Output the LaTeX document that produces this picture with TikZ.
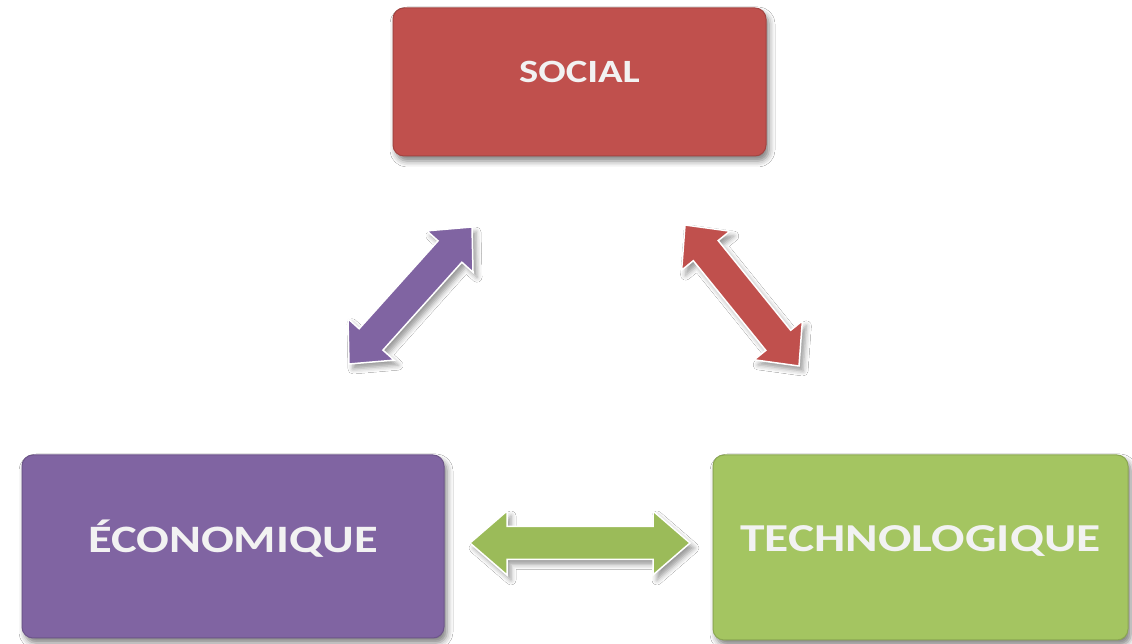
\documentclass[tikz,border=0pt]{standalone}
\usepackage{fontspec}
\setmainfont{Carlito}
\usepackage{graphicx}
\usetikzlibrary{calc,shadows.blur}
\definecolor{socred}{HTML}{C0504D}
\definecolor{ecopurple}{HTML}{8064A2}
\definecolor{techgreen}{HTML}{A4C561}
\definecolor{arrgreen}{HTML}{9BBB59}
\definecolor{lbl}{HTML}{F2F2F2}
\tikzset{
  box/.style={rounded corners=11pt, fill=#1, draw=#1!85!black, line width=1pt,
    blur shadow={shadow xshift=3pt, shadow yshift=-5pt, shadow blur radius=6pt, shadow opacity=50},
    text=lbl, font=\bfseries, inner sep=0pt},
  dbl/.style={fill=#1, draw=white, line width=1.5pt, line join=miter,
    blur shadow={shadow xshift=4pt, shadow yshift=-5pt, shadow blur radius=5pt, shadow opacity=40}},
}
\newcommand\dblarrow[6]{%
  \coordinate (#1-b) at ($(#1)!#5!(#2)$);
  \coordinate (#2-b) at ($(#2)!#5!(#1)$);
  \filldraw[dbl=#6] (#1) -- ($(#1-b)!#4!90:(#2)$) -- ($(#1-b)!#3!90:(#2)$)
    -- ($(#2-b)!#3!-90:(#1)$) -- ($(#2-b)!#4!-90:(#1)$) -- (#2)
    -- ($(#2-b)!#4!90:(#1)$) -- ($(#2-b)!#3!90:(#1)$)
    -- ($(#1-b)!#3!-90:(#2)$) -- ($(#1-b)!#4!-90:(#2)$) -- cycle;
}
\begin{document}
\begin{tikzpicture}[x=1pt,y=1pt]
\useasboundingbox (0,0) rectangle (1132,644);
\fill[white] (0,0) rectangle (1132,644);

\node[box=socred, minimum width=373pt, minimum height=148pt, text height=20pt, text depth=18pt]
  (social) at (579.5,562) {\fontsize{32.5pt}{36pt}\selectfont\scalebox{1.25}[1]{SOCIAL}};
\node[box=ecopurple, minimum width=422pt, minimum height=183pt, text height=25pt, text depth=12pt]
  (eco) at (233,97.5) {\fontsize{38.8pt}{42pt}\selectfont\scalebox{1.25}[1]{ÉCONOMIQUE}};
\node[box=techgreen, minimum width=415pt, minimum height=185pt, text height=25pt, text depth=16pt]
  (tech) at (920.5,96.5) {\fontsize{39.6pt}{43pt}\selectfont\scalebox{1.25}[1]{TECHNOLOGIQUE}};

\coordinate (pA) at (349,280);
\coordinate (pB) at (472,417);
\coordinate (rA) at (685,419);
\coordinate (rB) at (799,278);
\coordinate (gA) at (470,101);
\coordinate (gB) at (690,101);

\dblarrow{pA}{pB}{16pt}{31pt}{33pt}{ecopurple}
\dblarrow{rA}{rB}{16pt}{31pt}{33pt}{socred}
\dblarrow{gA}{gB}{16.5pt}{32pt}{37pt}{arrgreen}
\end{tikzpicture}
\end{document}
